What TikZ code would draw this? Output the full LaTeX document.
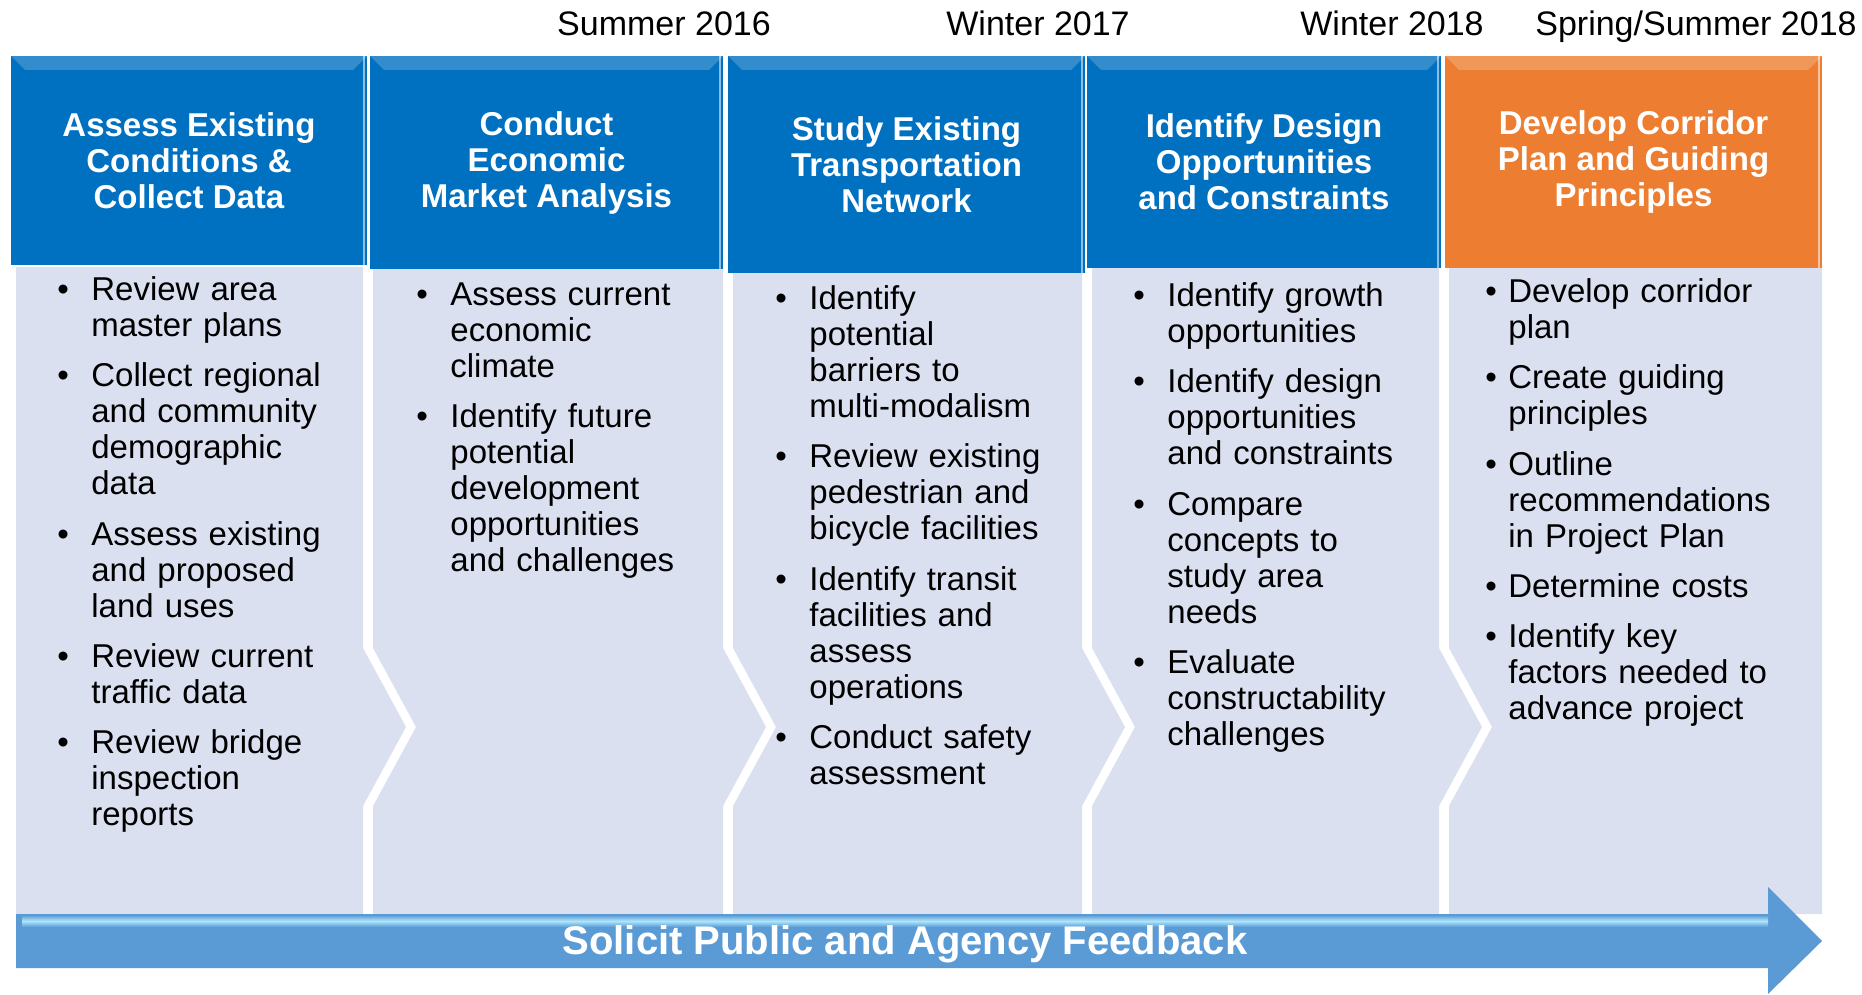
\documentclass[tikz,border=0pt]{standalone}
\usepackage{fontspec}
\setmainfont{Liberation Sans}

\definecolor{hdrblue}{RGB}{0,112,192}
\definecolor{hdrorange}{RGB}{237,125,49}
\definecolor{panelfill}{RGB}{218,224,240}
\definecolor{feedblue}{RGB}{91,155,213}
\definecolor{feedhi}{RGB}{175,230,252}

\newlength{\bulind}
\setlength{\bulind}{17pt}
\newcommand{\bitem}[1]{\noindent\hangindent=\bulind\hangafter=1\makebox[\bulind][l]{\textbullet}\strut#1\par}

\tikzset{
  header/.style={fill=hdrblue, text=white, inner sep=0pt, align=center,
    font=\bfseries\fontsize{16.5}{18}\selectfont,
    path picture={
      \fill[white, opacity=.2] (path picture bounding box.north west) -- (path picture bounding box.north east)
        -- ([shift={(-7pt,-7pt)}]path picture bounding box.north east) -- ([shift={(7pt,-7pt)}]path picture bounding box.north west) -- cycle;
      \draw[white, opacity=.55, line width=1.2pt] ([xshift=-1.5pt]path picture bounding box.north east) -- ([xshift=-1.5pt]path picture bounding box.south east);
    }},
  tasks/.style={anchor=north west, inner sep=0pt, text width=160pt,
    font=\fontsize{16.5}{18}\selectfont,
    execute at begin node={\setlength{\parskip}{7.1pt}\setlength{\parindent}{0pt}}},
  date/.style={anchor=base, font=\fontsize{17}{20}\selectfont},
  panel/.style={fill=panelfill}
}

\begin{document}
\begin{tikzpicture}[x=0.5pt,y=-0.5pt]
    \useasboundingbox (0,0) rectangle (1862,995);

    % chevron panels under the headers
    \fill[panel] (16,267) -- (363,267) -- (363,648) -- (406,727) -- (363,806) -- (363,914) -- (16,914) -- cycle;
    \fill[panel] (373,267) -- (723,267) -- (723,648) -- (766,727) -- (723,806) -- (723,914) -- (373,914) -- (373,806) -- (416,727) -- (373,648) -- cycle;
    \fill[panel] (733,267) -- (1082,267) -- (1082,648) -- (1125,727) -- (1082,806) -- (1082,914) -- (733,914) -- (733,806) -- (776,727) -- (733,648) -- cycle;
    \fill[panel] (1092,267) -- (1439,267) -- (1439,648) -- (1482,727) -- (1439,806) -- (1439,914) -- (1092,914) -- (1092,806) -- (1135,727) -- (1092,648) -- cycle;
    \fill[panel] (1449,267) -- (1822,267) -- (1822,914) -- (1449,914) -- (1449,806) -- (1492,727) -- (1449,648) -- cycle;

    % dates
    \node[date] (summer16) at (664,36) {Summer 2016};
    \node[date] (winter17) at (1038,36) {Winter 2017};
    \node[date] (winter18) at (1392,36) {Winter 2018};
    \node[date] (spring18) at (1696,36) {Spring/Summer 2018};

    % headers
    \node[header, minimum width=178pt, minimum height=104.5pt] (assess) at (189,160.5) {Assess Existing\\Conditions \&\\Collect Data};
    \node[header, minimum width=176.5pt, minimum height=106.5pt] (market) at (546.5,162.5) {Conduct\\Economic\\Market Analysis};
    \node[header, minimum width=178.5pt, minimum height=108.5pt] (network) at (906.5,164.5) {Study Existing\\Transportation\\Network};
    \node[header, minimum width=177pt, minimum height=106pt] (design) at (1264,162) {Identify Design\\Opportunities\\and Constraints};
    \node[header, fill=hdrorange, minimum width=188.5pt, minimum height=106pt] (corridor) at (1633.5,162) {Develop Corridor\\Plan and Guiding\\Principles};

    % task lists
    \node[tasks] (assesslist) at (57,275) {%
      \bitem{Review area\newline master plans}
      \bitem{Collect regional\newline and community\newline demographic\newline data}
      \bitem{Assess existing\newline and proposed\newline land uses}
      \bitem{Review current\newline traffic data}
      \bitem{Review bridge\newline inspection\newline reports}};
    \node[tasks] (marketlist) at (416,280) {%
      \bitem{Assess current\newline economic\newline climate}
      \bitem{Identify future\newline potential\newline development\newline opportunities\newline and challenges}};
    \node[tasks] (networklist) at (775,284) {%
      \bitem{Identify\newline potential\newline barriers to\newline multi-modalism}
      \bitem{Review existing\newline pedestrian and\newline bicycle facilities}
      \bitem{Identify transit\newline facilities and\newline assess\newline operations}
      \bitem{Conduct safety\newline assessment}};
    \node[tasks] (designlist) at (1133,281) {%
      \bitem{Identify growth\newline opportunities}
      \bitem{Identify design\newline opportunities\newline and constraints}
      \bitem{Compare\newline concepts to\newline study area\newline needs}
      \bitem{Evaluate\newline constructability\newline challenges}};
    \node[tasks, execute at begin node={\setlength{\bulind}{11.5pt}}] (corridorlist) at (1485,277) {%
      \bitem{Develop corridor\newline plan}
      \bitem{Create guiding\newline principles}
      \bitem{Outline\newline recommendations\newline in Project Plan}
      \bitem{Determine costs}
      \bitem{Identify key\newline factors needed to\newline advance project}};

    % feedback arrow
    \fill[feedblue] (16,914) -- (1768,914) -- (1768,887) -- (1822,941) -- (1768,994) -- (1768,968) -- (16,968) -- cycle;
    \shade[top color=feedblue, bottom color=feedblue, middle color=feedhi] (22,915) rectangle (1768,927);
    \node[anchor=base, text=white, font=\bfseries\fontsize{20}{24}\selectfont] (feedback) at (905,954) {Solicit Public and Agency Feedback};
\end{tikzpicture}
\end{document}
